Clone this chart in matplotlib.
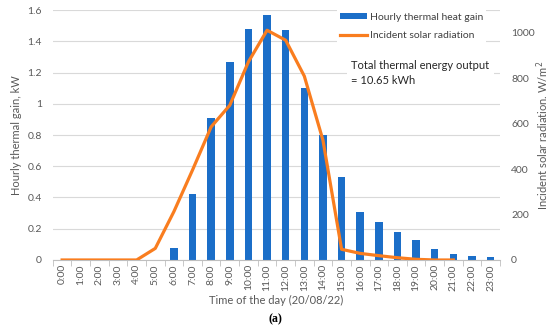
import matplotlib
matplotlib.use('Agg')
import matplotlib.pyplot as plt
import numpy as np

plt.rcParams['font.family'] = ['Lato', 'DejaVu Sans']

hours = ['%d:00' % h for h in range(24)]
heat_gain = [0.003, 0.0, 0.0, 0.0, 0.0, 0.003, 0.075, 0.42, 0.907, 1.27,
             1.476, 1.568, 1.47, 1.103, 0.80, 0.533, 0.305, 0.245, 0.179,
             0.128, 0.072, 0.038, 0.026, 0.019]
rad_hours = hours[:22]
radiation = [0, 0, 0, 0, 0, 51, 213, 396, 586, 681, 872, 1011, 967, 809,
             527, 47, 29, 19, 10, 3, 0, 0]

blue = '#1B6EC8'
orange = '#F97D1F'
grey = '#595959'

fig = plt.figure(figsize=(5.5, 3.34), dpi=100)
ax = fig.add_axes([0.096, 0.2216, 0.813, 0.7484])
x = np.arange(len(hours))
bars = ax.bar(x, heat_gain, width=0.4, color=blue, zorder=2,
              label='Hourly thermal heat gain')
ax.set_xlim(-0.5, 23.5)
ax.set_ylim(0, 1.6)
ax.set_yticks(np.arange(0, 1.61, 0.2))
ax.set_yticklabels(['0', '0.2', '0.4', '0.6', '0.8', '1', '1.2', '1.4', '1.6'])
ax.grid(axis='y', color='#D9D9D9', lw=0.8, zorder=0)
ax.set_axisbelow(True)
ax.set_xticks(x)
ax.set_xticklabels(hours, rotation=90)
ax.set_xticks(np.arange(-0.5, 24, 1), minor=True)
ax.tick_params(axis='x', which='major', length=0, labelsize=7.5, colors=grey, pad=3)
ax.tick_params(axis='x', which='minor', length=4, color='#BFBFBF')
ax.tick_params(axis='y', length=0, labelsize=7.5, colors=grey, pad=8)
for s in ['top', 'left', 'right']:
    ax.spines[s].set_visible(False)
ax.spines['bottom'].set_color('#BFBFBF')
ax.set_ylabel('Hourly thermal gain, kW', fontsize=8, color=grey, labelpad=4)
ax.set_xlabel('Time of the day (20/08/22)', fontsize=8, color=grey, labelpad=3)

ax2 = ax.twinx()
line, = ax2.plot(np.arange(len(rad_hours)), radiation, color=orange, lw=2.3,
                 label='Incident solar radiation', zorder=3)
ax2.set_ylim(0, 1100)
ax2.set_yticks(np.arange(0, 1001, 200))
ax2.tick_params(axis='y', length=0, labelsize=7.5, colors=grey, pad=8)
for s in ['top', 'left', 'right', 'bottom']:
    ax2.spines[s].set_visible(False)
ax2.set_ylabel('Incident solar radiation. W/m$^2$', fontsize=8, color=grey)
ax2.yaxis.set_label_coords(1.077, 0.5)

leg = ax2.legend(handles=[bars, line], loc='upper left', fontsize=7.5,
                 frameon=True, framealpha=1, edgecolor='none', fancybox=False,
                 handlelength=2.6, handleheight=0.5, handletextpad=0.3,
                 borderpad=0.3, labelspacing=0.85, borderaxespad=0,
                 bbox_to_anchor=(0.635, 1.0))
for t in leg.get_texts():
    t.set_color('#404040')

ax2.text(0.668, 0.748, 'Total thermal energy output\n= 10.65 kWh', transform=ax2.transAxes,
         fontsize=8, color='#262626', va='center', ha='left', linespacing=1.45,
         bbox=dict(facecolor='white', edgecolor='none', pad=3))

fig.text(0.5, 0.045, '(a)', ha='center', va='center', fontsize=8.5,
         fontweight='bold', family='Liberation Serif')

fig.savefig('out.png', dpi=100)
